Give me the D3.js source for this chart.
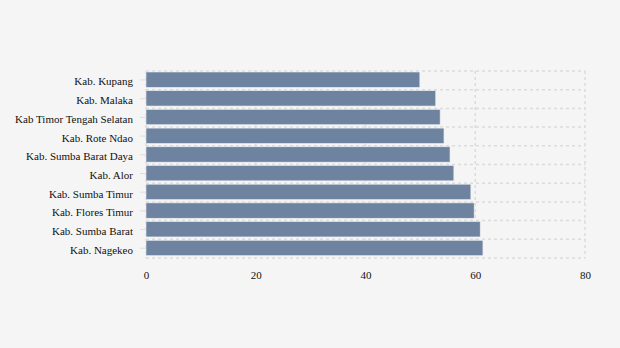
<!DOCTYPE html>
<html>
<head>
<meta charset="utf-8">
<script src="https://cdn.jsdelivr.net/npm/d3@7"></script>
<style>
  body { margin: 0; background: #f5f5f5; }
  svg { display: block; }
  svg text { font-family: "Liberation Serif", "Times New Roman", serif; font-size: 11px; fill: #111; }
</style>
</head>
<body>
<div id="chart"></div>
<script>
var categories = [
  "Kab. Kupang", "Kab. Malaka", "Kab Timor Tengah Selatan", "Kab. Rote Ndao",
  "Kab. Sumba Barat Daya", "Kab. Alor", "Kab. Sumba Timur", "Kab. Flores Timur",
  "Kab. Sumba Barat", "Kab. Nagekeo"
];
var values = [49.9, 52.8, 53.6, 54.3, 55.4, 56.1, 59.2, 59.8, 60.9, 61.4];
var xTicks = [0, 20, 40, 60, 80];

var data = categories.map((c, i) => ({ name: c, value: values[i] }));

var width = 620, height = 348;
var margin = { top: 71, right: 35, bottom: 90, left: 146 };
var chartWidth = width - margin.left - margin.right;
var chartHeight = height - margin.top - margin.bottom;

var svg = d3.select("#chart")
  .append("svg")
  .attr("width", width)
  .attr("height", height);

svg.append("rect").attr("width", width).attr("height", height).attr("fill", "#f5f5f5");

var g = svg.append("g")
  .attr("transform", `translate(${margin.left}, ${margin.top})`);

var xScale = d3.scaleLinear().domain([0, 80]).range([0, chartWidth]);
var yScale = d3.scaleBand().domain(categories).range([0, chartHeight]).padding(0);

// grid
var grid = g.append("g").attr("class", "grid")
  .attr("stroke", "#dcdcdc").attr("stroke-width", 1.5).attr("stroke-dasharray", "3,3");

grid.selectAll(".hline")
  .data(categories.concat(["__end"]))
  .enter()
  .append("line")
  .attr("x1", 0)
  .attr("x2", chartWidth)
  .attr("y1", d => d === "__end" ? chartHeight : yScale(d))
  .attr("y2", d => d === "__end" ? chartHeight : yScale(d));

grid.selectAll(".vline")
  .data(xTicks)
  .enter()
  .append("line")
  .attr("x1", d => xScale(d))
  .attr("x2", d => xScale(d))
  .attr("y1", 0)
  .attr("y2", chartHeight);

// bars
g.append("g").selectAll(".bar")
  .data(data)
  .enter()
  .append("rect")
  .attr("class", "bar")
  .attr("x", 0)
  .attr("y", d => yScale(d.name) + 1)
  .attr("width", d => xScale(d.value))
  .attr("height", yScale.bandwidth() * 0.82)
  .attr("fill", "#6e83a0")
  .attr("stroke", "#e8ecf1")
  .attr("stroke-width", 0.6);

// y axis
var yAxis = d3.axisLeft(yScale).tickSize(6).tickPadding(7);
var yG = g.append("g").attr("class", "y axis").call(yAxis);
yG.select(".domain").remove();
yG.selectAll(".tick line").attr("stroke", "#dddddd");
yG.selectAll(".tick").attr("transform", d => `translate(0, ${yScale(d) + yScale.bandwidth() * 0.48})`);
yG.selectAll("text").attr("dy", "0.5em");

// x axis
var xAxis = d3.axisBottom(xScale).tickValues(xTicks).tickSize(0).tickPadding(13);
var xG = g.append("g").attr("class", "x axis")
  .attr("transform", `translate(0, ${chartHeight})`)
  .call(xAxis);
xG.select(".domain").remove();
</script>
</body>
</html>
